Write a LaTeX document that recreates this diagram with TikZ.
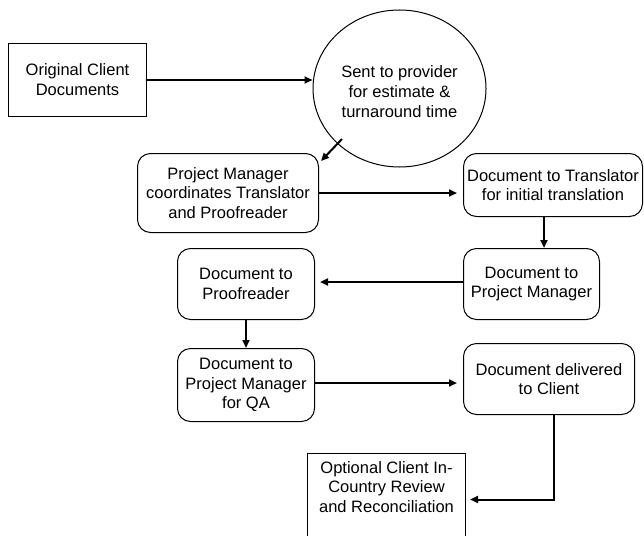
\documentclass[tikz,border=0pt]{standalone}
\usepackage{fontspec}
\setmainfont{Liberation Sans}
\usetikzlibrary{arrows.meta,shapes.geometric,calc}

\tikzset{
  txt/.style={font=\fontsize{16.5}{19.8}\selectfont, align=center, inner sep=0pt},
  plainbox/.style={txt, draw, line width=1pt},
  roundbox/.style={txt, draw, line width=1pt, rounded corners=13pt},
  oval/.style={txt, draw, ellipse, line width=1pt},
  flow/.style={line width=2pt, -{Triangle[length=8pt,width=7pt]}},
}

\begin{document}
\begin{tikzpicture}[x=1pt, y=-1pt]
  \useasboundingbox (0,0) rectangle (644,535);
  \clip (0,0) rectangle (644,535);

  % process steps
  \node[plainbox, minimum width=138, minimum height=73] (orig) at (77.5,80)
    {Original Client\\Documents};
  \node[oval, minimum width=173, minimum height=157] (circ) at (399.5,88.5) {};
  \node[txt] (circt) at (399.5,91.5)
    {Sent to provider\\for estimate \&\\turnaround time};
  \node[roundbox, minimum width=181, minimum height=79] (pm) at (228,193)
    {Project Manager\\coordinates Translator\\and Proofreader};
  \node[roundbox, minimum width=179, minimum height=63] (tr) at (553,185)
    {Document to Translator\\for initial translation};
  \node[roundbox, minimum width=136, minimum height=71] (dpm) at (531.5,284)
    {Document to\\Project Manager};
  \node[roundbox, minimum width=137, minimum height=71] (pr) at (246,284)
    {Document to\\Proofreader};
  \node[roundbox, minimum width=137, minimum height=73] (qa) at (246,385)
    {Document to\\Project Manager\\for QA};
  \node[roundbox, minimum width=171, minimum height=71] (del) at (549,379)
    {Document delivered\\to Client};
  % last box runs past the lower edge of the page
  \node[plainbox, minimum width=158, minimum height=93, anchor=north] (opt) at (386.5,452.5) {};
  \node[txt] (optt) at (386.5,487)
    {Optional Client In-\\Country Review\\and Reconciliation};

  % connectors
  \draw[flow] (orig.east) -- (orig.east -| circ.west);
  \coordinate (d0) at ($(circ.center)+(-57.5,50.5)$);
  \coordinate (d1) at ($(pm.north east)+(2,8)$);
  \draw[flow] (d0) -- (d1);
  \draw[flow, shorten >=6pt] (pm.east) -- (pm.east -| tr.west);
  \coordinate (t0) at ($(tr.south)+(-9,0)$);
  \draw[flow] (t0) -- (t0 |- dpm.north);
  \coordinate (p0) at ($(dpm.west)+(0,-2)$);
  \draw[flow, shorten >=5pt] (p0) -- (p0 -| pr.east);
  \draw[flow] (pr.south) -- (qa.north);
  \coordinate (q0) at ($(qa.east)+(0,-2)$);
  \draw[flow, shorten >=6pt] (q0) -- (q0 -| del.west);
  \coordinate (e0) at ($(del.south)+(5,0)$);
  \draw[flow, shorten >=4pt] (e0) |- (opt.east);
\end{tikzpicture}
\end{document}
